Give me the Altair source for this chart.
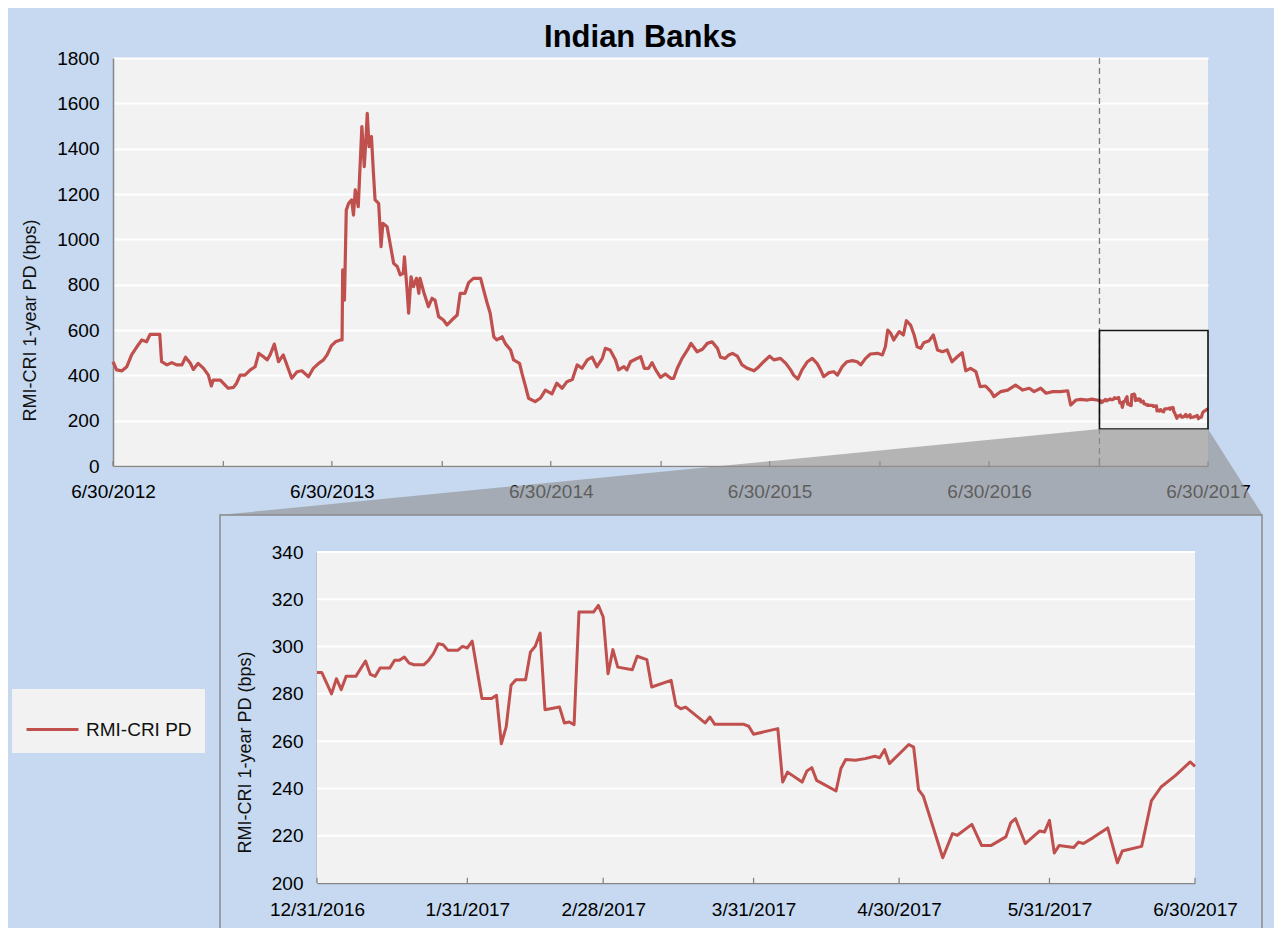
import altair as alt
import pandas as pd

# ---------------- data ----------------
TOP_START = "2012-06-30"      # day 0 of top_days
ZOOM_START = "2016-12-31"     # day 0 of zoom_days
ZOOM_END = "2017-06-30"
SERIES = "RMI-CRI PD"

top_days = [0, 6, 15, 23, 31, 42, 48, 56, 62, 78, 81, 90, 98, 106, 115, 121, 129, 134, 142, 151,
            159, 164, 167, 179, 187, 192, 201, 206, 212, 220, 229, 237, 243, 251, 257, 262, 269, 276,
            284, 292, 298, 307, 315, 326, 334, 343, 351, 357, 364, 371, 379, 382, 383, 386, 387, 389,
            393, 398, 401, 404, 409, 411, 415, 419, 422, 424, 427, 431, 434, 437, 443, 447, 450, 457,
            462, 468, 474, 479, 484, 486, 490, 493, 497, 501, 506, 510, 512, 518, 526, 532, 537, 543,
            551, 557, 565, 574, 579, 587, 593, 601, 613, 618, 624, 629, 635, 640, 649, 654, 663, 668,
            678, 682, 688, 693, 704, 713, 721, 732, 740, 749, 757, 766, 774, 782, 791, 799, 807, 816,
            821, 829, 838, 843, 852, 857, 863, 871, 880, 886, 893, 899, 905, 913, 921, 930, 935, 941,
            949, 958, 964, 974, 983, 991, 999, 1008, 1013, 1021, 1027, 1033, 1041, 1049, 1058, 1069,
            1077, 1085, 1095, 1102, 1113, 1122, 1130, 1135, 1142, 1149, 1158, 1166, 1174, 1180, 1185,
            1194, 1202, 1208, 1216, 1224, 1233, 1241, 1247, 1255, 1263, 1275, 1283, 1288, 1292, 1297,
            1302, 1311, 1318, 1323, 1330, 1336, 1341, 1347, 1352, 1361, 1368, 1375, 1383, 1391, 1399,
            1408, 1416, 1422, 1430, 1439, 1446, 1455, 1464, 1469, 1480, 1492, 1505, 1517, 1528, 1536,
            1547, 1556, 1567, 1580, 1592, 1597, 1606, 1614, 1625, 1632]
top_vals = [460, 424, 420, 438, 490, 534, 556, 548, 581, 581, 460, 446, 456, 446, 446, 480, 453, 426, 453, 431,
            401, 353, 379, 379, 357, 343, 347, 365, 401, 401, 424, 438, 497, 482, 468, 490, 538, 460,
            490, 431, 387, 416, 420, 394, 431, 453, 468, 490, 530, 548, 556, 556, 865, 732, 865, 1129,
            1159, 1174, 1107, 1218, 1144, 1262, 1497, 1321, 1453, 1556, 1409, 1453, 1306, 1174, 1159, 968, 1071, 1056,
            983, 894, 880, 843, 850, 923, 791, 674, 835, 791, 828, 762, 828, 769, 703, 740, 732, 659,
            644, 622, 644, 666, 762, 762, 809, 828, 828, 777, 718, 674, 570, 556, 570, 541, 512, 468,
            453, 409, 350, 299, 284, 300, 335, 318, 365, 343, 372, 382, 446, 431, 468, 480, 438, 475,
            519, 512, 468, 424, 438, 424, 460, 471, 482, 431, 431, 456, 424, 391, 406, 387, 387, 431,
            475, 512, 541, 504, 515, 541, 548, 519, 480, 475, 490, 497, 485, 446, 431, 420,
            438, 460, 485, 468, 475, 453, 424, 401, 384, 424, 460, 475, 453, 424, 394,
            412, 416, 401, 438, 460, 465, 460, 446, 475, 494, 497, 490, 526, 600, 585,
            556, 593, 578, 641, 622, 578, 526, 519, 544, 553, 578, 512, 504, 512, 460,
            482, 500, 420, 431, 416, 350, 353, 328, 306, 328, 335, 357, 335, 343, 328,
            343, 321, 328, 328, 332, 269, 291, 294, 291, 295]

zoom_days = [0, 1, 3, 4, 5, 6, 8, 10, 11, 12, 13, 15, 16, 17, 18, 19, 20, 22, 23, 24, 25, 26, 27, 29, 30,
             31, 32, 34, 36, 37, 38, 39, 40, 41, 43, 44, 45, 46, 47, 50, 51, 52, 53, 54, 57, 58, 59, 60,
             61, 62, 65, 66, 68, 69, 73, 74, 75, 76, 80, 81, 82, 88, 89, 90, 95, 96, 97, 100, 101, 102,
             103, 107, 108, 109, 111, 113, 115, 116, 117, 118, 122, 123, 124, 125, 129, 131, 132, 135,
             137, 139, 142, 143, 144, 146, 149, 150, 151, 152, 153, 156, 157, 158, 160, 163, 165, 166,
             170, 172, 174, 177, 180, 181]
zoom_vals = [289, 289, 280, 286.4, 281.8, 287.4, 287.4, 293.9, 288.2, 287.4, 290.9, 290.9, 294.2, 294.2,
             295.6, 293, 292.3, 292.3, 294.2, 297, 301.2, 300.8, 298.4, 298.4, 300.1, 299.4, 302.3, 278,
             278, 279.4, 258.9, 266, 283.6, 286, 286, 297.7, 300.1, 305.7, 273.3, 274.4, 267.7, 268.1,
             267, 314.6, 314.6, 317.4, 312.5, 288.5, 298.7, 291.3, 290.2, 295.9, 294.5, 282.9, 285.7,
             275.1, 273.7, 274.4, 267.7, 270.2, 267.1, 267.1, 266.3, 262.9, 265.3, 242.7, 246.9, 242.7,
             247.4, 248.8, 243.4, 238.9, 248.4, 252.2, 251.9, 252.6, 253.6, 253, 256.4, 250.5, 258.6,
             257.5, 239.5, 236.7, 210.7, 220.9, 220.2, 224.8, 215.9, 215.9, 219.5, 225.4, 227.2, 216.7,
             222, 221.6, 226.5, 212.7, 215.9, 215, 217.3, 216.7, 219.2, 223.3, 208.5, 213.5, 215.5,
             234.7, 240.6, 245.5, 251.2, 249.3]

top_tick_dates = ["2012-06-30", "2012-12-31", "2013-06-30", "2013-12-31", "2014-06-30", "2014-12-31",
                  "2015-06-30", "2015-12-31", "2016-06-30", "2016-12-31", "2017-06-30"]
zoom_tick_dates = ["2016-12-31", "2017-01-31", "2017-02-28", "2017-03-31", "2017-04-30",
                   "2017-05-31", "2017-06-30"]
top_y_ticks = [0, 200, 400, 600, 800, 1000, 1200, 1400, 1600, 1800]
zoom_y_ticks = [200, 220, 240, 260, 280, 300, 320, 340]
zoom_box_vals = [163, 598]            # y extent of the zoom rectangle on the main chart

Y_TITLE = "RMI-CRI  1-year PD (bps)"
RED = "#c0504d"
GRAY = "#868686"
FONT = "Liberation Sans"

# --------------- tables ---------------
pre = pd.DataFrame({"date": pd.Timestamp(TOP_START) + pd.to_timedelta(top_days, unit="D"),
                    "value": top_vals})
zoom = pd.DataFrame({"date": pd.Timestamp(ZOOM_START) + pd.to_timedelta(zoom_days, unit="D"),
                     "value": zoom_vals})
full = pd.concat([pre, zoom], ignore_index=True)
full["series"] = SERIES
zoom["series"] = SERIES


def dt(s):
    t = pd.Timestamp(s)
    return alt.DateTime(year=t.year, month=t.month, date=t.day)


# ---------------- main (top) chart ----------------
x_top = alt.Scale(domain=[dt(TOP_START), dt(ZOOM_END)], nice=False)
y_top = alt.Scale(domain=[0, 1800], nice=False)

dashed = alt.Chart(pd.DataFrame({"date": [pd.Timestamp(ZOOM_START)]})).mark_rule(
    color="#7a7a7a", strokeDash=[6, 4], strokeWidth=1.3
).encode(x=alt.X("date:T", scale=x_top))

top_ticks_df = pd.DataFrame({"date": pd.to_datetime(top_tick_dates), "y0": 0, "y1": 22})
top_tick_marks = alt.Chart(top_ticks_df).mark_rule(color=GRAY, strokeWidth=1.3).encode(
    x=alt.X("date:T", scale=x_top), y=alt.Y("y0:Q", scale=y_top), y2="y1:Q")

top_line = alt.Chart(full).mark_line(strokeWidth=3.2, strokeJoin="round").encode(
    x=alt.X("date:T", scale=x_top,
            axis=alt.Axis(orient="bottom", title=None, grid=False, ticks=False,
                          values=[dt(d) for d in top_tick_dates],
                          labelExpr="month(datum.value) == 5 ? timeFormat(datum.value, '%-m/%-d/%Y') : ''",
                          labelFontSize=19, labelColor="#000", labelPadding=16, labelFlush=False,
                          labelOverlap=False, domainColor=GRAY, domainWidth=1.5)),
    y=alt.Y("value:Q", scale=y_top,
            axis=alt.Axis(orient="left", title=Y_TITLE, values=top_y_ticks, format="d", grid=True,
                          gridColor="white", gridWidth=2, ticks=False, labelFontSize=19,
                          labelColor="#000", labelPadding=14, domainColor=GRAY, domainWidth=1.5,
                          titleFontSize=18, titleFontWeight="normal", titleColor="#111",
                          titleX=-83, titleY=262, titleAlign="center", titleBaseline="middle",
                          titleAngle=270)),
    color=alt.Color("series:N", scale=alt.Scale(range=[RED]),
                    legend=alt.Legend(orient="none", legendX=-101, legendY=631, title=None,
                                      fillColor="#f2f2f2", padding=13, symbolType="stroke",
                                      symbolSize=2704, symbolStrokeWidth=3, labelFontSize=19,
                                      labelOffset=6, labelColor="#111")),
)

box_df = pd.DataFrame({"x0": [pd.Timestamp(ZOOM_START)], "x1": [pd.Timestamp(ZOOM_END)],
                       "y0": [zoom_box_vals[0]], "y1": [zoom_box_vals[1]]})
zoom_box = alt.Chart(box_df).mark_rect(fillOpacity=0, stroke="#111", strokeWidth=1.6).encode(
    x=alt.X("x0:T", scale=x_top), x2="x1:T", y=alt.Y("y0:Q", scale=y_top), y2="y1:Q")

# connector between zoom box and inset (expressed in main-chart units, reaching below the axis)
trap_df = pd.DataFrame({
    "date": pd.to_datetime(["2012-12-25", ZOOM_START, ZOOM_END, "2017-09-29"]),
    "top": [-216, zoom_box_vals[0], zoom_box_vals[0], -216],
    "bottom": [-216, -216, -216, -216],
})
trapezoid = alt.Chart(trap_df).mark_area(color="#929292", opacity=0.64, clip=False).encode(
    x=alt.X("date:T", scale=x_top), y=alt.Y("top:Q", scale=y_top), y2="bottom:Q")

frame = alt.Chart(pd.DataFrame({"k": [0]})).mark_rect(
    fillOpacity=0, stroke="#8a8a8a", strokeWidth=1.5
).encode(x=alt.value(107), x2=alt.value(1149), y=alt.value(457), y2=alt.value(895))

top_group = alt.layer(dashed, top_tick_marks, top_line, zoom_box, trapezoid, frame)

# ---------------- inset chart ----------------
x_zoom = alt.Scale(domain=[dt(ZOOM_START), dt(ZOOM_END)], nice=False, range=[204, 1082])
y_zoom = alt.Scale(domain=[200, 340], nice=False, range=[825, 494])

zbg = alt.Chart(box_df.assign(y0=200, y1=340)).mark_rect(fill="#f2f2f2").encode(
    x=alt.X("x0:T", scale=x_zoom), x2="x1:T", y=alt.Y("y0:Q", scale=y_zoom), y2="y1:Q")

zgrid_df = pd.DataFrame({"v": zoom_y_ticks[1:]})
zgrid_df["x0"] = pd.Timestamp(ZOOM_START)
zgrid_df["x1"] = pd.Timestamp(ZOOM_END)
zgrid = alt.Chart(zgrid_df).mark_rule(color="white", strokeWidth=2).encode(
    x=alt.X("x0:T", scale=x_zoom), x2="x1:T", y=alt.Y("v:Q", scale=y_zoom))

zticks_df = pd.DataFrame({"date": pd.to_datetime(zoom_tick_dates), "y0": 200, "y1": 202.2})
zticks = alt.Chart(zticks_df).mark_rule(color=GRAY, strokeWidth=1.3).encode(
    x=alt.X("date:T", scale=x_zoom), y=alt.Y("y0:Q", scale=y_zoom), y2="y1:Q")

zline = alt.Chart(zoom).mark_line(color=RED, strokeWidth=3, strokeJoin="round").encode(
    x=alt.X("date:T", scale=x_zoom,
            axis=alt.Axis(orient="bottom", offset=417, title=None, grid=False, ticks=False,
                          values=[dt(d) for d in zoom_tick_dates], format="%-m/%-d/%Y",
                          labelFontSize=19, labelColor="#000", labelPadding=17, labelFlush=False,
                          labelOverlap=False, domainColor=GRAY, domainWidth=1.5)),
    y=alt.Y("value:Q", scale=y_zoom,
            axis=alt.Axis(orient="left", offset=-204, title=Y_TITLE, values=zoom_y_ticks,
                          grid=False, ticks=False, labelFontSize=19, labelColor="#000",
                          labelPadding=14, domainColor=GRAY, domainWidth=1.5,
                          titleFontSize=18, titleFontWeight="normal", titleColor="#111",
                          titleX=-72, titleY=694, titleAlign="center", titleBaseline="middle",
                          titleAngle=270)),
)

zoom_group = alt.layer(zbg, zgrid, zticks, zline)

chart = alt.layer(top_group, zoom_group).resolve_scale(
    x="independent", y="independent"
).properties(
    width=1095, height=408,
    autosize=alt.AutoSizeParams(type="none"),
    padding={"left": 105, "top": 50, "right": 66, "bottom": 462},
    title=alt.TitleParams("Indian Banks", fontSize=31, fontWeight="bold", font=FONT,
                          anchor="middle", dx=-20, offset=-5, color="#000"),
).configure(
    background="#c6d9f0", font=FONT,
).configure_view(fill="#f2f2f2", stroke=None)

chart.save("out.html", embed_options={"renderer": "svg", "actions": False})
